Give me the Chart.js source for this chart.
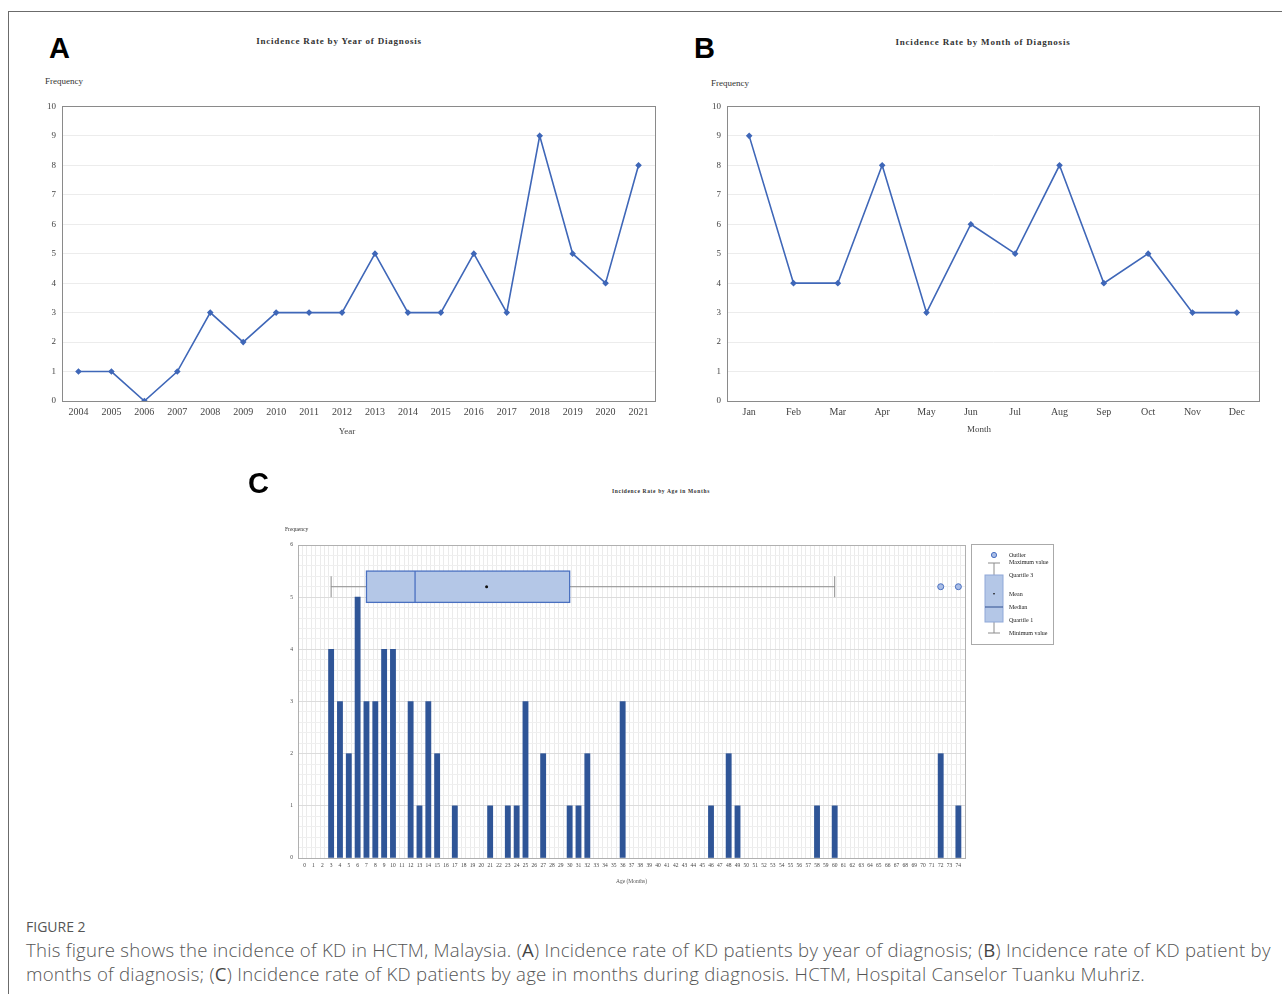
<!DOCTYPE html>
<html>
<head>
<meta charset="utf-8">
<script src="https://cdn.jsdelivr.net/npm/chart.js@4.4.1/dist/chart.umd.min.js"></script>
<style>
    body { margin: 0; background: #fff; width: 1282px; height: 994px; position: relative; overflow: hidden; font-family: "Liberation Serif", "Times New Roman", serif; }
    .frame { position: absolute; left: 8px; top: 11px; right: -2px; bottom: -2px; border-top: 1px solid #6b6b6b; border-left: 1px solid #6b6b6b; }
    .abs { position: absolute; white-space: nowrap; line-height: 1; }
    .letter { font-family: "Liberation Sans", Arial, sans-serif; font-weight: bold; font-size: 29px; color: #000; }
    .ttl { font-weight: bold; font-size: 9px; letter-spacing: 0.8px; color: #333; transform: translateX(-50%); }
    .freq { font-size: 9px; color: #333; }
    .axt { font-size: 9px; color: #444; transform: translateX(-50%); }
    .small { font-size: 5.5px; }
    .cap-head { font-family: "Open Sans", "Noto Sans", sans-serif; font-size: 14px; color: #555; left: 26px; top: 920px; }
    .cap { font-family: "Open Sans", "Noto Sans", sans-serif; font-weight: 300; font-size: 18.6px; letter-spacing: 0.27px; color: #555; left: 26px; top: 938px; line-height: 24px; }
    .cap b { font-weight: 500; color: #444; }
    canvas { position: absolute; }
</style>
</head>
<body>
<div class="frame"></div>

<div class="abs letter" style="left:49px;top:34px">A</div>
<div class="abs ttl" style="left:339px;top:37px">Incidence Rate by Year of Diagnosis</div>
<div class="abs freq" style="left:45px;top:77px">Frequency</div>
<canvas id="chartYear" width="635" height="346" style="left:30px;top:95px"></canvas>
<div class="abs axt" style="left:347px;top:427px">Year</div>

<div class="abs letter" style="left:694px;top:34px">B</div>
<div class="abs ttl" style="left:983px;top:38px">Incidence Rate by Month of Diagnosis</div>
<div class="abs freq" style="left:711px;top:79px">Frequency</div>
<canvas id="chartMonth" width="572" height="346" style="left:695px;top:95px"></canvas>
<div class="abs axt" style="left:979px;top:425px">Month</div>

<div class="abs letter" style="left:248px;top:469px">C</div>
<div class="abs ttl small" style="left:661px;top:489px;letter-spacing:0.65px">Incidence Rate by Age in Months</div>
<div class="abs freq small" style="left:285px;top:527px">Frequency</div>
<canvas id="chartAge" width="800" height="355" style="left:270px;top:535px"></canvas>

<div class="abs cap-head">FIGURE 2</div>
<div class="abs cap">This figure shows the incidence of KD in HCTM, Malaysia. (<b>A</b>) Incidence rate of KD patients by year of diagnosis; (<b>B</b>) Incidence rate of KD patient by<br>months of diagnosis; (<b>C</b>) Incidence rate of KD patients by age in months during diagnosis. HCTM, Hospital Canselor Tuanku Muhriz.</div>

<script>
// Dados
const years = ['2004', '2005', '2006', '2007', '2008', '2009', '2010', '2011', '2012',
    '2013', '2014', '2015', '2016', '2017', '2018', '2019', '2020', '2021'];
const yearCounts = [1, 1, 0, 1, 3, 2, 3, 3, 3, 5, 3, 3, 5, 3, 9, 5, 4, 8];

const months = ['Jan', 'Feb', 'Mar', 'Apr', 'May', 'Jun', 'Jul', 'Aug', 'Sep', 'Oct', 'Nov', 'Dec'];
const monthCounts = [9, 4, 4, 8, 3, 6, 5, 8, 4, 5, 3, 3];

const ageMonths = [3, 4, 5, 6, 7, 8, 9, 10, 12, 13, 14, 15, 17, 21, 23, 24, 25, 27,
    30, 31, 32, 36, 46, 48, 49, 58, 60, 72, 74];
const ageCounts = [4, 3, 2, 5, 3, 3, 4, 4, 3, 1, 3, 2, 1, 1, 1, 1, 3, 2,
    1, 1, 2, 3, 1, 2, 1, 1, 1, 2, 1];

// Resumo do box plot (min, Q1, mediana, média, Q3, max) e outliers
const boxStats = { min: 3, q1: 7, median: 12.5, mean: 20.6, q3: 30, max: 60 };
const outlierAges = [72, 74];
const boxLevel = 5.2;

const lineColor = '#3f67b8';
const barColor = '#2f5597';
const boxFill = '#b4c7e7';
const boxEdge = '#4a70c0';
const serif = '"Liberation Serif", "Times New Roman", serif';

// Moldura cinza em volta da área do gráfico
const framePlugin = {
    id: 'frame',
    afterDraw(chart, args, opts) {
        const a = chart.chartArea;
        const ctx = chart.ctx;
        ctx.save();
        ctx.strokeStyle = opts.color || '#8a8a8a';
        ctx.lineWidth = 1;
        ctx.strokeRect(Math.round(a.left) + 0.5, Math.round(a.top) + 0.5,
            Math.round(a.right - a.left), Math.round(a.bottom - a.top));
        ctx.restore();
    }
};

function lineChart(id, labels, values) {
    const ctx = document.getElementById(id).getContext('2d');
    return new Chart(ctx, {
        type: 'line',
        data: {
            labels: labels,
            datasets: [{
                data: values,
                borderColor: lineColor,
                backgroundColor: lineColor,
                borderWidth: 1.6,
                pointStyle: 'rectRot',
                pointRadius: 2.2,
                pointHoverRadius: 2.2,
                tension: 0
            }]
        },
        options: {
            responsive: false,
            animation: false,
            layout: { padding: { top: 9, right: id === 'chartYear' ? 10 : 8, left: 0, bottom: 0 } },
            plugins: { legend: { display: false }, tooltip: { enabled: false }, frame: { color: '#8a8a8a' } },
            scales: {
                x: {
                    offset: true,
                    grid: { display: false, drawTicks: false },
                    border: { color: '#555' },
                    ticks: { padding: 5, color: '#444', font: { family: serif, size: 10 }, maxRotation: 0 },
                    afterFit: s => { s.height = 40; }
                },
                y: {
                    min: 0,
                    max: 10,
                    ticks: { stepSize: 1, padding: 6, color: '#444', font: { family: serif, size: 9 } },
                    grid: { color: '#ececec', drawTicks: false },
                    border: { color: '#555' },
                    afterFit: s => { s.width = 32; }
                }
            }
        },
        plugins: [framePlugin]
    });
}

// Box plot e legenda desenhados por cima das barras
const boxPlugin = {
    id: 'boxplot',
    afterDatasetsDraw(chart) {
        const x = chart.scales.x;
        const y = chart.scales.y;
        const ctx = chart.ctx;
        const yc = y.getPixelForValue(boxLevel);
        const yTop = y.getPixelForValue(boxLevel + 0.3);
        const yBot = y.getPixelForValue(boxLevel - 0.3);
        const capTop = y.getPixelForValue(boxLevel + 0.2);
        const capBot = y.getPixelForValue(boxLevel - 0.2);
        const px = v => x.getPixelForValue(v);

        ctx.save();
        ctx.strokeStyle = '#8c8c8c';
        ctx.lineWidth = 1;
        ctx.beginPath();
        ctx.moveTo(px(boxStats.min), yc); ctx.lineTo(px(boxStats.q1), yc);
        ctx.moveTo(px(boxStats.q3), yc); ctx.lineTo(px(boxStats.max), yc);
        ctx.moveTo(px(boxStats.min), capTop); ctx.lineTo(px(boxStats.min), capBot);
        ctx.moveTo(px(boxStats.max), capTop); ctx.lineTo(px(boxStats.max), capBot);
        ctx.stroke();

        ctx.fillStyle = boxFill;
        ctx.strokeStyle = boxEdge;
        ctx.lineWidth = 1.3;
        ctx.fillRect(px(boxStats.q1), yTop, px(boxStats.q3) - px(boxStats.q1), yBot - yTop);
        ctx.strokeRect(px(boxStats.q1), yTop, px(boxStats.q3) - px(boxStats.q1), yBot - yTop);
        ctx.beginPath();
        ctx.moveTo(px(boxStats.median), yTop);
        ctx.lineTo(px(boxStats.median), yBot);
        ctx.stroke();

        ctx.fillStyle = '#111';
        ctx.beginPath();
        ctx.arc(px(boxStats.mean), yc, 1.5, 0, Math.PI * 2);
        ctx.fill();

        outlierAges.forEach(a => {
            ctx.beginPath();
            ctx.arc(px(a), yc, 3, 0, Math.PI * 2);
            ctx.fillStyle = '#a9bde6';
            ctx.fill();
            ctx.strokeStyle = boxEdge;
            ctx.lineWidth = 1;
            ctx.stroke();
        });
        ctx.restore();
    },
    afterDraw(chart) {
        const ctx = chart.ctx;
        const lx = chart.chartArea.right + 6;
        const ly = chart.chartArea.top - 1;
        ctx.save();
        ctx.strokeStyle = '#aaa';
        ctx.lineWidth = 1;
        ctx.strokeRect(lx + 0.5, ly + 0.5, 82, 100);

        const cx = lx + 23;
        ctx.beginPath();
        ctx.arc(cx, ly + 11, 2.6, 0, Math.PI * 2);
        ctx.fillStyle = '#a9bde6';
        ctx.fill();
        ctx.strokeStyle = boxEdge;
        ctx.stroke();

        ctx.strokeStyle = '#8c8c8c';
        ctx.beginPath();
        ctx.moveTo(cx - 6, ly + 19); ctx.lineTo(cx + 6, ly + 19);
        ctx.moveTo(cx, ly + 19); ctx.lineTo(cx, ly + 31);
        ctx.moveTo(cx, ly + 78); ctx.lineTo(cx, ly + 89);
        ctx.moveTo(cx - 6, ly + 89); ctx.lineTo(cx + 6, ly + 89);
        ctx.stroke();

        ctx.fillStyle = boxFill;
        ctx.fillRect(cx - 9, ly + 31, 18, 47);
        ctx.strokeStyle = '#8fa8d8';
        ctx.strokeRect(cx - 9, ly + 31, 18, 47);
        ctx.strokeStyle = '#2f4f8f';
        ctx.beginPath();
        ctx.moveTo(cx - 9, ly + 63); ctx.lineTo(cx + 9, ly + 63);
        ctx.stroke();
        ctx.fillStyle = '#111';
        ctx.fillRect(cx - 0.7, ly + 49, 1.4, 1.4);

        ctx.fillStyle = '#222';
        ctx.font = '6px ' + serif;
        ctx.textBaseline = 'middle';
        const tx = lx + 38;
        [['Outlier', 11], ['Maximum value', 18], ['Quartile 3', 31], ['Mean', 50],
         ['Median', 63], ['Quartile 1', 76], ['Minimum value', 89]].forEach(([t, dy]) => {
            ctx.fillText(t, tx, ly + dy);
        });
        ctx.restore();
    }
};

function ageChart() {
    const ctx = document.getElementById('chartAge').getContext('2d');
    const isInt = v => Math.abs(v - Math.round(v)) < 1e-6;
    return new Chart(ctx, {
        type: 'bar',
        data: {
            datasets: [{
                data: ageMonths.map((m, i) => ({ x: m, y: ageCounts[i] })),
                backgroundColor: barColor,
                barThickness: 5.2
            }]
        },
        options: {
            responsive: false,
            animation: false,
            layout: { padding: { top: 10, right: 105, left: 0, bottom: 0 } },
            plugins: { legend: { display: false }, tooltip: { enabled: false }, frame: { color: '#b0b0b0' } },
            scales: {
                x: {
                    type: 'linear',
                    min: -0.5,
                    max: 74.5,
                    ticks: {
                        stepSize: 0.5,
                        autoSkip: false,
                        maxRotation: 0,
                        minRotation: 0,
                        padding: 4,
                        color: '#444',
                        font: { family: serif, size: 5.5 },
                        callback: v => isInt(v) ? String(Math.round(v)) : ''
                    },
                    grid: { color: '#ebebeb', drawTicks: false },
                    border: { color: '#999' },
                    title: { display: true, text: 'Age (Months)', color: '#555', font: { family: serif, size: 5.5 }, padding: { top: 2, bottom: 5 } },
                    afterFit: s => { s.height = 32; }
                },
                y: {
                    min: 0,
                    max: 6,
                    ticks: {
                        stepSize: 0.2,
                        autoSkip: false,
                        padding: 5,
                        color: '#444',
                        font: { family: serif, size: 5.5 },
                        callback: v => isInt(v) ? String(Math.round(v)) : ''
                    },
                    grid: {
                        drawTicks: false,
                        color: c => isInt(c.tick.value) ? '#dcdcdc' : '#efefef'
                    },
                    border: { color: '#999' },
                    afterFit: s => { s.width = 28; }
                }
            }
        },
        plugins: [framePlugin, boxPlugin]
    });
}

lineChart('chartYear', years, yearCounts);
lineChart('chartMonth', months, monthCounts);
ageChart();
</script>
</body>
</html>
